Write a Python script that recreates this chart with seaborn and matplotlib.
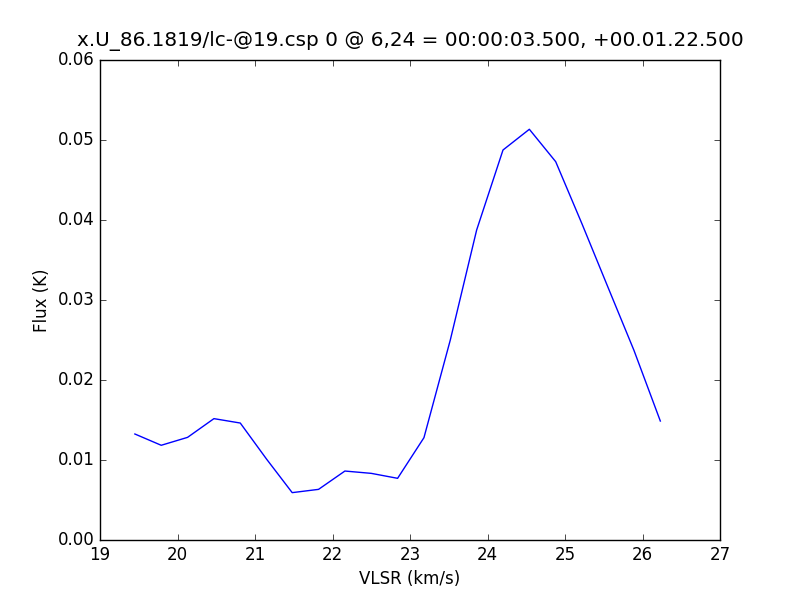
import numpy as np
import pandas as pd
import seaborn as sns
import matplotlib
matplotlib.use("Agg")
import matplotlib.pyplot as plt

# spectrum values
vlsr = [19.45, 19.79, 20.13, 20.47, 20.81, 21.15, 21.48, 21.82, 22.16, 22.50, 22.84,
        23.18, 23.52, 23.86, 24.20, 24.54, 24.88, 25.22, 25.55, 25.89, 26.23]
flux = [0.01325, 0.01184, 0.01283, 0.01517, 0.01462, 0.0101, 0.00592, 0.00633, 0.00862,
        0.00833, 0.00771, 0.01279, 0.0250, 0.03875, 0.04875, 0.05134, 0.04729, 0.0395,
        0.0317, 0.0237, 0.01487]

title = "x.U_86.1819/lc-@19.csp 0 @ 6,24 = 00:00:03.500, +00.01.22.500"

plt.style.use("classic")
plt.rcParams["font.family"] = ["DejaVu Sans"]

df = pd.DataFrame({"vlsr": vlsr, "flux": flux})

fig = plt.figure(figsize=(8, 6), dpi=100, facecolor="white")
ax = fig.add_axes([0.125, 0.1, 0.775, 0.8])
sns.lineplot(data=df, x="vlsr", y="flux", ax=ax, color="blue", linewidth=1.0)

ax.set_xlim(19, 27)
ax.set_ylim(0, 0.06)
ax.set_xticks(np.arange(19, 28, 1))
ax.set_yticks(np.arange(0, 0.061, 0.01))
ax.set_yticklabels([f"{v:.2f}" for v in np.arange(0, 0.061, 0.01)])
ax.set_xlabel("VLSR (km/s)", fontsize=12)
ax.set_ylabel("Flux (K)", fontsize=12)
# small extra pad so the title clears the 0.06 label
ax.set_title(title, fontsize=14.4, pad=10)
ax.tick_params(direction="in", top=True, right=True, labelsize=12)

fig.savefig("out.png", dpi=100, facecolor="white")
